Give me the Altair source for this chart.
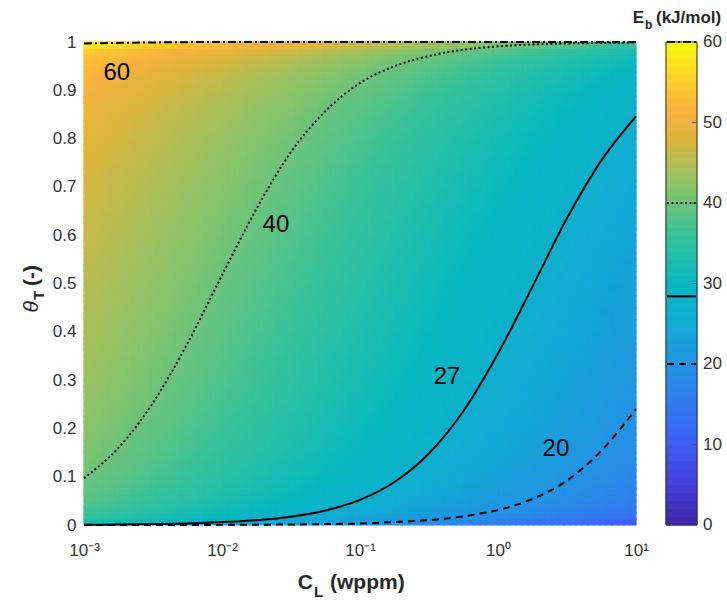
import altair as alt
import numpy as np
import pandas as pd

# ---------------- data ----------------
# contour lines: C_L (wppm) and theta_T (-)
c_pts = [0.001, 0.00178, 0.00316, 0.00562, 0.01, 0.0178, 0.0316, 0.0562, 0.1,
         0.178, 0.316, 0.562, 1.0, 1.78, 3.16, 5.62, 10.0]
t40 = [0.097, 0.16, 0.253, 0.376, 0.517, 0.655, 0.772, 0.857, 0.915,
       0.950, 0.971, 0.984, 0.991, 0.995, 0.997, 0.998, 0.999]
t27 = [0.0005, 0.001, 0.002, 0.003, 0.006, 0.010, 0.017, 0.030, 0.052,
       0.089, 0.148, 0.236, 0.355, 0.494, 0.635, 0.755, 0.846]
t20 = [0.0, 0.0, 0.0, 0.0, 0.0003, 0.0006, 0.001, 0.002, 0.003,
       0.006, 0.010, 0.018, 0.031, 0.054, 0.092, 0.154, 0.240]
c60 = [0.001, 0.003, 0.01, 10.0]
t60 = [0.997, 0.999, 1.0, 1.0]

# contour labels
lab_text = ["60", "40", "27", "20"]
lab_c = [0.00173, 0.0246, 0.427, 2.63]
lab_t = [0.935, 0.622, 0.306, 0.157]

# colour bar
cb_ticks = [0, 10, 20, 30, 40, 50, 60]
cb_marks = [60, 40, 28.4, 20]   # contour markers drawn in the colour bar

x_ticks = [0.001, 0.01, 0.1, 1, 10]
x_labels = ["10⁻³", "10⁻²", "10⁻¹", "10⁰", "10¹"]
y_ticks = [0, 0.1, 0.2, 0.3, 0.4, 0.5, 0.6, 0.7, 0.8, 0.9, 1.0]

# binding-energy field (Oriani equilibrium), parameters
RT = 2.46          # kJ/mol
E_ref = 40.0       # kJ/mol
C_half = 0.0093    # wppm at which theta_T = 0.5 on the 40 kJ/mol contour

# parula-like colour map
par_dom = [0, 6, 12, 18, 24, 30, 36, 42, 48, 51, 54, 60]
par_col = ["#3e26a8", "#4543e2", "#3a6af8", "#2a8ae8", "#14a6d8", "#06b8c0",
           "#36c29a", "#88c46a", "#dcb63c", "#f7b13f", "#fcc331", "#f9fb0e"]

# ---------------- tables ----------------
nx, ny = 92, 80
lx = np.linspace(-3, 1, nx + 1)
ty = np.linspace(0, 1, ny + 1)
rows = []
for i in range(nx):
    cm = 10 ** ((lx[i] + lx[i + 1]) / 2)
    for j in range(ny):
        tm = (ty[j] + ty[j + 1]) / 2
        eb = E_ref + RT * (np.log(tm / (1 - tm)) - np.log(cm / C_half))
        rows.append((10 ** lx[i], 10 ** lx[i + 1], ty[j], ty[j + 1], float(np.clip(eb, 0, 60))))
heat = pd.DataFrame(rows, columns=["x0", "x1", "y0", "y1", "eb"])

def line_df(c, t):
    return pd.DataFrame({"C": c, "theta": t})

labels = pd.DataFrame({"txt": lab_text, "C": lab_c, "theta": lab_t})
cbar = pd.DataFrame({"v0": np.arange(0, 60), "v1": np.arange(1, 61)})
cbar["vm"] = cbar["v0"] + 0.5
cbt = pd.DataFrame({"v": cb_ticks, "lab": [str(v) for v in cb_ticks]})

FONT = "Liberation Sans"
W, H = 552, 483
CB0, CB1 = 582, 613

color_scale = alt.Scale(domain=par_dom, range=par_col, interpolate="rgb")
xs = alt.Scale(type="log", domain=[0.001, 10], nice=False)
ys = alt.Scale(domain=[0, 1], nice=False)

label_expr = " : ".join(
    [f"datum.value == {v} ? '{l}'" for v, l in zip(x_ticks, x_labels)]) + " : ''"

heat_layer = alt.Chart(heat).mark_rect(strokeWidth=1.2).encode(
    x=alt.X("x0:Q", scale=xs, axis=alt.Axis(values=x_ticks, labelExpr=label_expr, title=None,
                                             grid=False, domain=False, ticks=False,
                                             labelFlush=False, labelFontSize=17, labelPadding=17,
                                             labelFont=FONT, labelColor="#333333")),
    x2="x1:Q",
    y=alt.Y("y0:Q", scale=ys, axis=alt.Axis(values=y_ticks, format=".1~f", title=None,
                                             grid=False, domain=False, ticks=False,
                                             labelFlush=False, labelFontSize=17, labelPadding=8,
                                             labelFont=FONT, labelColor="#333333")),
    y2="y1:Q",
    color=alt.Color("eb:Q", scale=color_scale, legend=None),
    stroke=alt.Color("eb:Q", scale=color_scale, legend=None),
)

def contour(c, t, dash, width=2.0):
    kw = {"strokeDash": dash} if dash else {}
    return alt.Chart(line_df(c, t)).mark_line(color="black", strokeWidth=width,
                                               interpolate="monotone", **kw).encode(
        x=alt.X("C:Q", scale=xs), y=alt.Y("theta:Q", scale=ys))

l60 = contour(c60, t60, [8, 3, 2, 3])
l40 = contour(c_pts, t40, [2, 2.5])
l27 = contour(c_pts, t27, None)
l20 = contour(c_pts, t20, [7, 5])

lab_layer = alt.Chart(labels).mark_text(font=FONT, fontSize=24, color="black",
                                        align="center", baseline="middle").encode(
    x=alt.X("C:Q", scale=xs), y=alt.Y("theta:Q", scale=ys), text="txt:N")

one = pd.DataFrame({"a": [0]})

def txt(s, x, y, size, **kw):
    return alt.Chart(one).mark_text(text=s, font=FONT, fontSize=size, color="#262626",
                                    fontWeight="bold", **kw).encode(
        x=alt.value(x), y=alt.value(y))

# x-axis title C_L (wppm)
xt = [txt("C", 229, 547, 21, align="right", baseline="alphabetic"),
      txt("L", 230, 555, 15, align="left", baseline="alphabetic"),
      txt("(wppm)", 246, 547, 21, align="left", baseline="alphabetic"),]
# y-axis title theta_T (-)
yt = [alt.Chart(one).mark_text(text="θ", font=FONT, fontSize=21, color="#262626",
                               fontStyle="italic", angle=270, align="right",
                               baseline="alphabetic").encode(x=alt.value(-46), y=alt.value(259)),
      txt("T", -40, 258, 15, angle=270, align="left", baseline="alphabetic"),
      txt("(-)", -46, 244, 21, angle=270, align="left", baseline="alphabetic")]
# colour-bar title E_b (kJ/mol)
ct = [txt("E", 560, -19, 17, align="right", baseline="alphabetic"),
      txt("b", 561, -13, 12, align="left", baseline="alphabetic"),
      txt("(kJ/mol)", 572, -19, 17, align="left", baseline="alphabetic")]

cys = alt.Scale(domain=[0, 60], nice=False)
cb_rect = alt.Chart(cbar).mark_rect(strokeWidth=1).encode(
    x=alt.value(CB0), x2=alt.value(CB1),
    y=alt.Y("v0:Q", scale=cys, axis=None), y2="v1:Q",
    color=alt.Color("vm:Q", scale=color_scale, legend=None),
    stroke=alt.Color("vm:Q", scale=color_scale, legend=None))
cb_border = alt.Chart(one).mark_rect(fill=None, stroke="#333333", strokeWidth=1).encode(
    x=alt.value(CB0), x2=alt.value(CB1), y=alt.value(0), y2=alt.value(H))
cb_tk = alt.Chart(cbt[(cbt.v > 0) & (cbt.v < 60)]).mark_rule(color="#555555", strokeWidth=1).encode(
    x=alt.value(CB1 - 5), x2=alt.value(CB1), y=alt.Y("v:Q", scale=cys, axis=None))
cb_lab = alt.Chart(cbt).mark_text(font=FONT, fontSize=17, color="#333333", align="left",
                                  baseline="middle").encode(
    x=alt.value(CB1 + 6), y=alt.Y("v:Q", scale=cys, axis=None), text="lab:N")

def cb_line(v, dash):
    kw = {"strokeDash": dash} if dash else {}
    return alt.Chart(pd.DataFrame({"v": [v]})).mark_rule(color="black", strokeWidth=2, **kw).encode(
        x=alt.value(CB0 + 1), x2=alt.value(CB1 - 1), y=alt.Y("v:Q", scale=cys, axis=None))

cb_lines = [cb_line(cb_marks[0], [8, 3, 2, 3]), cb_line(cb_marks[1], [2, 2.5]),
            cb_line(cb_marks[2], None), cb_line(cb_marks[3], [7, 5])]

main = alt.layer(heat_layer, l60, l40, l27, l20, lab_layer, *xt, *yt, *ct)
cb = alt.layer(cb_rect, *cb_lines, cb_border, cb_tk, cb_lab)

chart = alt.layer(main, cb).resolve_scale(y="independent").properties(
    width=W, height=H,
    autosize=alt.AutoSizeParams(type="none"),
    padding={"left": 84, "top": 42, "right": 91, "bottom": 81},
    background="white",
).configure_view(strokeWidth=0)

chart.save("out.html", embed_options={"renderer": "svg", "actions": False})
